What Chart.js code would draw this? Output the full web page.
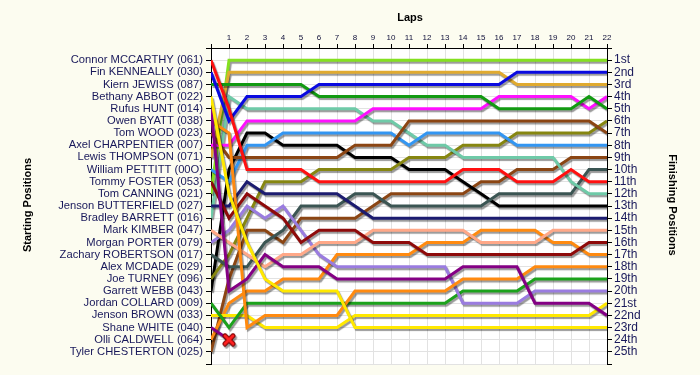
<!DOCTYPE html>
<html>
<head>
<meta charset="utf-8">
<script src="https://cdn.jsdelivr.net/npm/chart.js@4.4.1/dist/chart.umd.min.js"></script>
<style>
  html, body { margin: 0; padding: 0; background: #fcfcf0; }
  #wrap { width: 700px; height: 375px; }
</style>
</head>
<body>
<div id="wrap"><canvas id="chart-vueltas" width="700" height="375"></canvas></div>
<script>
// Datos: vueltas, nombres de salida, etiquetas de llegada
const laps = [0,1,2,3,4,5,6,7,8,9,10,11,12,13,14,15,16,17,18,19,20,21,22];
const startingNames = [
    'Connor MCCARTHY (061)', 'Fin KENNEALLY (030)', 'Kiern JEWISS (087)', 'Bethany ABBOT (022)',
    'Rufus HUNT (014)', 'Owen BYATT (038)', 'Tom WOOD (023)', 'Axel CHARPENTIER (007)',
    'Lewis THOMPSON (071)', 'William PETTITT (00O)', 'Tommy FOSTER (053)', 'Tom CANNING (021)',
    'Jenson BUTTERFIELD (027)', 'Bradley BARRETT (016)', 'Mark KIMBER (047)', 'Morgan PORTER (079)',
    'Zachary ROBERTSON (017)', 'Alex MCDADE (029)', 'Joe TURNEY (096)', 'Garrett WEBB (043)',
    'Jordan COLLARD (009)', 'Jenson BROWN (033)', 'Shane WHITE (040)', 'Olli CALDWELL (064)',
    'Tyler CHESTERTON (025)'
];
const finishLabels = [
    '1st','2nd','3rd','4th','5th','6th','7th','8th','9th','10th','11th','12th','13th',
    '14th','15th','16th','17th','18th','19th','20th','21st','22nd','23rd','24th','25th'
];

// Posición en cada vuelta (vuelta 0 = salida)
const posMcCarthy    = [1,5,10,10,10,10,11,11,11,11,11,11,11,11,10,10,10,11,11,11,10,11,11];
const posKenneally   = [2,6,4,4,4,4,3,3,3,3,3,3,3,3,3,3,3,2,2,2,2,2,2];
const posJewiss      = [3,3,3,3,3,3,4,4,4,4,4,4,4,4,4,4,5,5,5,5,5,4,5];
const posAbbot       = [4,12,16,19,20,20,20,20,23,23,23,23,23,23,23,23,23,23,23,23,23,23,23];
const posHunt        = [5,20,19,17,18,18,18,19,19,19,19,19,19,19,18,18,18,18,21,21,21,21,22];
const posByatt       = [6,7,23,22,22,22,22,22,20,20,20,20,20,20,19,19,19,19,18,18,18,18,18];
const posWood        = [7,9,9,9,9,9,9,9,8,8,8,6,6,6,6,6,6,6,6,6,6,6,7];
const posCharpentier = [8,8,6,6,6,6,6,6,6,5,5,5,5,5,5,5,4,4,4,4,4,5,4];
const posThompson    = [9,2,2,2,2,2,2,2,2,2,2,2,2,2,2,2,2,3,3,3,3,3,3];
const posPettitt     = [10,11,8,8,7,7,7,7,7,7,7,8,7,7,7,7,7,8,8,8,8,8,8];
const posFoster      = [11,14,12,13,14,16,15,15,15,16,16,16,17,17,17,17,17,17,17,17,17,16,16];
const posCanning     = [12,1,1,1,1,1,1,1,1,1,1,1,1,1,1,1,1,1,1,1,1,1,1];
const posButterfield = [13,13,11,12,12,12,12,12,13,14,14,14,14,14,14,14,14,14,14,14,14,14,14];
const posBarrett     = [14,4,5,5,5,5,5,5,5,6,6,7,8,8,9,9,9,9,9,9,11,12,12];
const posKimber      = [15,16,17,18,17,17,16,16,16,15,15,15,15,15,15,16,16,16,16,15,15,15,15];
const posPorter      = [16,15,13,14,13,15,17,18,18,18,18,18,18,18,21,21,21,21,20,20,20,20,20];
const posRobertson   = [17,18,18,16,15,13,13,13,12,12,13,13,13,13,13,13,12,12,12,12,12,10,10];
const posMcDade      = [18];
const posTurney      = [19,17,14,11,11,11,10,10,10,10,10,9,9,9,8,8,8,7,7,7,7,7,6];
const posWebb        = [20,10,7,7,8,8,8,8,9,9,9,10,10,10,11,12,13,13,13,13,13,13,13];
const posCollard     = [21,23,21,21,21,21,21,21,21,21,21,21,21,21,20,20,20,20,19,19,19,19,19];
const posBrown       = [22,22,22,23,23,23,23,23,22,22,22,22,22,22,22,22,22,22,22,22,22,22,21];
const posWhite       = [23,24];
const posCaldwell    = [24,21,20,20,19,19,19,17,17,17,17,17,16,16,16,15,15,15,15,16,16,17,17];
const posChesterton  = [25,19,15,15,16,14,14,14,14,13,12,12,12,12,12,11,11,10,10,10,9,9,9];

// Abandono (vuelta, posición)
const retiredLap = [1];
const retiredPos = [24];

const driverPositions = [
    posMcCarthy, posKenneally, posJewiss, posAbbot, posHunt, posByatt, posWood, posCharpentier,
    posThompson, posPettitt, posFoster, posCanning, posButterfield, posBarrett, posKimber, posPorter,
    posRobertson, posMcDade, posTurney, posWebb, posCollard, posBrown, posWhite, posCaldwell, posChesterton
];

const driverColors = [
    '#ff1010', '#0a0ae0', '#129a12', '#ffe800', '#840084', '#ff8a10', '#8b4513', '#ff10ff',
    '#e0aa30', '#3396f2', '#8e0a0a', '#84e020', '#1c1c70', '#6fcaa8', '#ffa888', '#9a7ce0',
    '#3b5553', '#888888', '#868610', '#000000', '#1ca21c', '#ffe800', '#840084', '#ff8a10',
    '#8b4513'
];

/**
 * Dibujar la X de abandono
 */
function crearMarcaAbandono() {
    const c = document.createElement('canvas');
    c.width = 14;
    c.height = 14;
    const g = c.getContext('2d');
    g.lineCap = 'round';
    g.strokeStyle = '#7a0000';
    g.lineWidth = 5;
    g.beginPath();
    g.moveTo(3, 3); g.lineTo(11, 11);
    g.moveTo(11, 3); g.lineTo(3, 11);
    g.stroke();
    g.strokeStyle = '#ff2020';
    g.lineWidth = 3;
    g.stroke();
    return c;
}

const datasets = driverPositions.map((pos, i) => ({
    label: startingNames[i],
    data: pos.map((p, lap) => ({ x: laps[lap], y: p })),
    borderColor: driverColors[i],
    backgroundColor: driverColors[i],
    borderWidth: 3,
    pointRadius: 0,
    fill: false,
    tension: 0
}));

datasets.unshift({
    label: 'Abandono',
    data: retiredLap.map((l, i) => ({ x: l, y: retiredPos[i] })),
    showLine: false,
    pointStyle: crearMarcaAbandono(),
    pointRadius: 7,
    borderWidth: 0
});

// Fondo blanco del área del gráfico
const fondoArea = {
    id: 'fondoArea',
    beforeDraw(chart) {
        const { ctx, chartArea } = chart;
        ctx.save();
        ctx.fillStyle = '#fcfcf0';
        ctx.fillRect(0, 0, chart.width, chart.height);
        ctx.fillStyle = '#ffffff';
        ctx.fillRect(chartArea.left, chartArea.top, chartArea.right - chartArea.left, chartArea.bottom - chartArea.top);
        ctx.restore();
    }
};

// Sombra de las líneas
const sombraLineas = {
    id: 'sombraLineas',
    beforeDatasetsDraw(chart) {
        const ctx = chart.ctx;
        ctx.save();
        ctx.shadowColor = 'rgba(0, 0, 0, 0.4)';
        ctx.shadowOffsetX = 1.5;
        ctx.shadowOffsetY = 2;
        ctx.shadowBlur = 1;
    },
    afterDatasetsDraw(chart) {
        chart.ctx.restore();
    }
};

// Títulos de los ejes
const titulosEjes = {
    id: 'titulosEjes',
    afterDraw(chart) {
        const ctx = chart.ctx;
        ctx.save();
        ctx.fillStyle = '#000000';
        ctx.font = 'bold 11px "Liberation Sans", Arial, sans-serif';
        ctx.textAlign = 'center';
        ctx.textBaseline = 'middle';
        ctx.fillText('Laps', 410, 18);

        ctx.save();
        ctx.translate(28, 205);
        ctx.rotate(-Math.PI / 2);
        ctx.fillText('Starting Positions', 0, 0);
        ctx.restore();

        ctx.save();
        ctx.translate(672, 205);
        ctx.rotate(Math.PI / 2);
        ctx.fillText('Finishing Positions', 0, 0);
        ctx.restore();
        ctx.restore();
    }
};

const colorTexto = '#18185a';
const colorRejilla = '#e2e2e2';

new Chart(document.getElementById('chart-vueltas').getContext('2d'), {
    type: 'line',
    data: { datasets: datasets },
    options: {
        responsive: false,
        animation: false,
        devicePixelRatio: 1,
        layout: { padding: { top: 0, bottom: 11, left: 0, right: 0 } },
        plugins: {
            legend: { display: false },
            tooltip: { enabled: false }
        },
        scales: {
            x: {
                type: 'linear',
                position: 'top',
                min: 0,
                max: 22,
                afterFit(scale) { scale.height = 48; },
                ticks: {
                    stepSize: 1,
                    autoSkip: false,
                    maxRotation: 0,
                    padding: 1,
                    color: '#10103a',
                    font: { size: 8, family: '"Liberation Sans", Arial, sans-serif' },
                    callback: v => (v === 0 ? '' : v)
                },
                grid: { color: colorRejilla, tickColor: '#000000', tickLength: 4 },
                border: { color: '#000000', width: 1 }
            },
            y: {
                type: 'linear',
                position: 'left',
                reverse: true,
                min: 0,
                max: 26,
                afterFit(scale) { scale.width = 211; },
                ticks: {
                    stepSize: 1,
                    autoSkip: false,
                    padding: 3,
                    color: colorTexto,
                    font: { size: 11.2, family: '"Liberation Sans", Arial, sans-serif' },
                    callback: v => startingNames[v - 1] || ''
                },
                grid: { color: colorRejilla, tickColor: '#000000', tickLength: 5 },
                border: { color: '#000000', width: 1 }
            },
            y2: {
                type: 'linear',
                position: 'right',
                reverse: true,
                min: 0,
                max: 26,
                afterFit(scale) { scale.width = 93; },
                ticks: {
                    stepSize: 1,
                    autoSkip: false,
                    padding: 2,
                    color: colorTexto,
                    font: { size: 12, family: '"Liberation Sans", Arial, sans-serif' },
                    callback: v => finishLabels[v - 1] || ''
                },
                grid: { drawOnChartArea: false, tickColor: '#000000', tickLength: 5 },
                border: { color: '#000000', width: 1 }
            }
        }
    },
    plugins: [fondoArea, sombraLineas, titulosEjes]
});
</script>
</body>
</html>
